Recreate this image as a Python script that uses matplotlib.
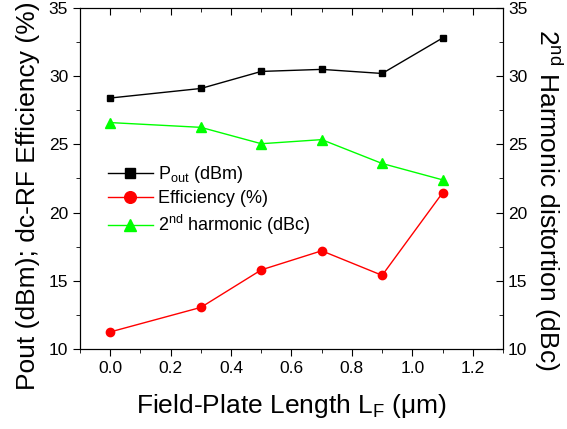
import numpy as np
import matplotlib.pyplot as plt
from matplotlib.ticker import MultipleLocator

plt.rcParams['font.family'] = ['Liberation Sans', 'DejaVu Sans']
plt.rcParams['mathtext.fontset'] = 'custom'
plt.rcParams['mathtext.rm'] = 'Liberation Sans'
plt.rcParams['mathtext.it'] = 'Liberation Sans'

lf = [0.0, 0.3, 0.5, 0.7, 0.9, 1.1]  # field-plate length (um)
pout = [28.4, 29.1, 30.35, 30.5, 30.2, 32.8]  # dBm
eff = [11.25, 13.05, 15.8, 17.2, 15.4, 21.45]  # %
harm = [26.6, 26.25, 25.05, 25.35, 23.6, 22.4]  # dBc
xticks = [0.0, 0.2, 0.4, 0.6, 0.8, 1.0, 1.2]
yticks = [10, 15, 20, 25, 30, 35]

fig = plt.figure(figsize=(5.67, 4.29), dpi=100)
ax = fig.add_axes([80 / 567, 1 - 349 / 429, 423 / 567, 341 / 429])
ax2 = ax.twinx()

l1, = ax.plot(lf, pout, color='black', marker='s', markersize=5, lw=1,
              label='P$_{\\mathrm{out}}$ (dBm)')
l2, = ax.plot(lf, eff, color='red', marker='o', markersize=6, lw=1,
              label='Efficiency (%)')
l3, = ax2.plot(lf, harm, color='#00ff00', marker='^', markersize=6.5, lw=1,
               label='2$^{\\mathrm{nd}}$ harmonic (dBc)')

ax.set_xlim(-0.1, 1.3)
ax.set_ylim(10, 35)
ax2.set_ylim(10, 35)

ax.set_xticks(xticks)
ax.set_xticklabels(['%.1f' % v for v in xticks])
ax.xaxis.set_minor_locator(MultipleLocator(0.1))
ax.set_yticks(yticks)
ax.yaxis.set_minor_locator(MultipleLocator(2.5))
ax2.set_yticks(yticks)
ax2.yaxis.set_minor_locator(MultipleLocator(2.5))

ax.tick_params(axis='both', which='both', direction='out', labelsize=12.5)
ax.tick_params(which='major', length=5)
ax.tick_params(which='minor', length=3)
ax.tick_params(axis='x', which='both', top=True)
ax2.tick_params(axis='y', which='both', direction='in', labelsize=12.5)
ax2.tick_params(which='major', length=5)
ax2.tick_params(which='minor', length=3)
# top ticks point inward
for t in ax.xaxis.get_major_ticks() + ax.xaxis.get_minor_ticks():
    t.tick2line.set_marker(3)

ax.set_xlabel('Field-Plate Length L$_{\\mathrm{F}}$ ($\\mu$m)', fontsize=19, labelpad=12)
ax.set_ylabel('Pout (dBm); dc-RF Efficiency (%)', fontsize=19)
ax.yaxis.set_label_coords(-0.095, 0.449)
ax2.set_ylabel('2$^{\\mathrm{nd}}$ Harmonic distortion (dBc)', fontsize=19,
               rotation=-90, va='bottom')
ax2.yaxis.set_label_coords(1.069, 0.437)

leg = ax.legend(handles=[l1, l2, l3], loc='upper left',
                bbox_to_anchor=(0.066, 0.5425), frameon=False, fontsize=13,
                borderpad=0, borderaxespad=0,
                handlelength=2.5, handletextpad=0.3, labelspacing=0.3,
                markerscale=1.4)

fig.savefig('out.png', dpi=100)
